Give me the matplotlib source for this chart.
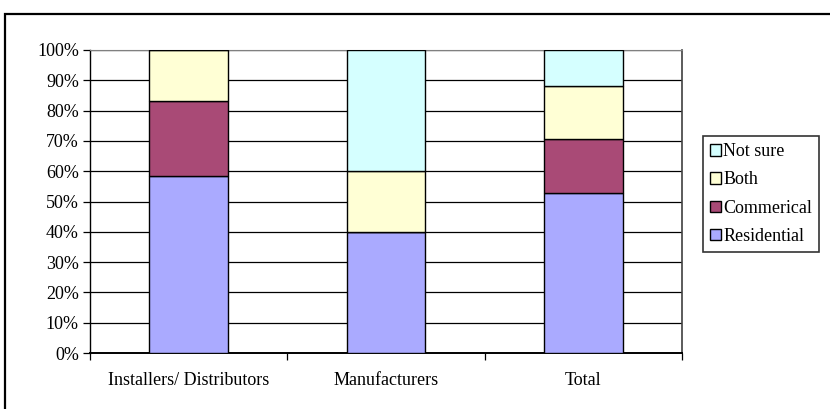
import numpy as np
import matplotlib.pyplot as plt
import matplotlib.patches as patches
from matplotlib.ticker import FixedLocator

plt.rcParams['font.family'] = ['Liberation Serif', 'DejaVu Serif']

groups = ['Installers/ Distributors', 'Manufacturers', 'Total']
series = ['Residential', 'Commerical', 'Both', 'Not sure']
residential = [58.3, 40.0, 52.9]
commercial = [25.0, 0.0, 17.6]
both = [16.7, 20.0, 17.6]
not_sure = [0.0, 40.0, 11.8]
colors = ['#AAAAFF', '#A94A76', '#FFFFD5', '#D5FFFF']

fig = plt.figure(figsize=(8.3, 4.09), dpi=100)
fig.set_facecolor('white')
ax = fig.add_axes([90/830, 1 - 353/409, 592/830, 303/409])

# outer chart border (only top/left fall inside the image)
fig.patches.append(patches.Rectangle((5/830, -0.1), 1.2, 1 - 14/409 + 0.1,
                                     transform=fig.transFigure, fill=False,
                                     edgecolor='black', linewidth=1.6))

x = np.arange(len(groups))
bottom = np.zeros(len(groups))
for name, vals, c in zip(series, [residential, commercial, both, not_sure], colors):
    vals = np.asarray(vals)
    ax.bar(x, vals, width=0.4, bottom=bottom, color=c, edgecolor='black',
           linewidth=1.0, label=name, zorder=3)
    bottom += vals

ax.set_xlim(-0.5, len(groups) - 0.5)
ax.set_ylim(0, 100)
ax.set_yticks(np.arange(0, 101, 10))
ax.set_yticklabels(['%d%%' % v for v in range(0, 101, 10)], fontsize=13)
ax.yaxis.grid(True, color='black', linewidth=0.9, zorder=0)
ax.set_axisbelow(True)

ax.set_xticks(x)
ax.set_xticklabels(groups, fontsize=13)
ax.tick_params(axis='x', length=0, pad=14)
ax.xaxis.set_minor_locator(FixedLocator(np.arange(-0.5, len(groups), 1)))
ax.tick_params(axis='x', which='minor', length=5, width=0.9, direction='out')
ax.tick_params(axis='y', length=5, width=0.9, direction='out', pad=3)

ax.spines['left'].set_linewidth(1.0)
ax.spines['bottom'].set_linewidth(1.4)
ax.spines['top'].set_color('#808080')
ax.spines['right'].set_color('#404040')
ax.spines['right'].set_linewidth(1.2)

handles, labels = ax.get_legend_handles_labels()
leg = fig.legend(handles[::-1], labels[::-1], loc='upper left',
                 bbox_to_anchor=(703/830, 1 - 136/409), fontsize=13,
                 frameon=True, fancybox=False, handlelength=0.6,
                 handleheight=0.6, handletextpad=0.12, labelspacing=0.62,
                 borderpad=0.4, borderaxespad=0)
leg.get_frame().set_edgecolor('black')
leg.get_frame().set_linewidth(1.2)

fig.savefig('out.png', dpi=100, facecolor='white')
